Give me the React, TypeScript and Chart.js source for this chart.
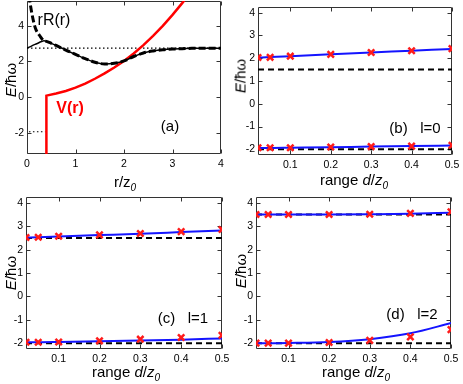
import React, { useEffect, useRef } from "react";
import { Chart, registerables } from "chart.js";
Chart.register(...registerables);

const FONT = '"Liberation Sans", Arial, Helvetica, sans-serif';

// ---------- Panel (a) data ----------
const aXTicks = [0, 1, 2, 3, 4];
const aYTicks = [-2, 0, 2, 4];
const rRSolidR = [0, 0.1, 0.2, 0.3, 0.35, 0.4, 0.5, 0.6, 0.8, 1.0, 1.2, 1.4, 1.6, 1.8, 2.0, 2.2, 2.4, 2.6, 2.8, 3.0, 3.2, 3.4, 3.6, 3.8, 4.0];
const rRSolidV = [2.75, 2.88, 3.0, 3.12, 3.16, 3.13, 3.02, 2.9, 2.64, 2.4, 2.16, 1.96, 1.86, 1.9, 2.03, 2.28, 2.48, 2.59, 2.66, 2.7, 2.72, 2.74, 2.75, 2.75, 2.75];
const rRDashR = [0.04, 0.1, 0.17, 0.27, 0.35, 0.4, 0.5, 0.6, 0.8, 1.0, 1.2, 1.4, 1.6, 1.8, 2.0, 2.2, 2.4, 2.6, 2.8, 3.0, 3.2, 3.4, 3.6, 3.8, 4.0];
const rRDashV = [5.7, 4.7, 3.9, 3.42, 3.16, 3.13, 3.02, 2.9, 2.64, 2.4, 2.16, 1.96, 1.86, 1.9, 2.03, 2.28, 2.48, 2.59, 2.66, 2.7, 2.72, 2.74, 2.75, 2.75, 2.75];
const potR = [0.4, 0.4, 0.6, 0.8, 1.0, 1.2, 1.4, 1.6, 1.8, 2.0, 2.2, 2.4, 2.6, 2.8, 3.0, 3.2, 3.4];
const potV = [-3.4, 0.08, 0.2, 0.34, 0.53, 0.76, 1.03, 1.33, 1.66, 2.03, 2.45, 2.92, 3.44, 4.0, 4.62, 5.28, 5.98];
const levelHighR = [0, 4];
const levelHigh = 2.75;
const levelLowR = [0.04, 0.38];
const levelLow = -1.95;

// ---------- Panels (b)-(d) data ----------
const dRange = [0.02, 0.05, 0.1, 0.2, 0.3, 0.4, 0.5];
const dXTicks = [0.1, 0.2, 0.3, 0.4, 0.5];
const dYTicks = [-2, -1, 0, 1, 2, 3, 4];

// (b) l=0
const l0UpperLine = [2.03, 2.05, 2.09, 2.17, 2.25, 2.33, 2.41];
const l0UpperPts = [2.03, 2.04, 2.09, 2.17, 2.25, 2.33, 2.42];
const l0LowerLine = [-1.94, -1.94, -1.93, -1.91, -1.88, -1.86, -1.83];
const l0LowerPts = [-1.93, -1.93, -1.93, -1.9, -1.88, -1.86, -1.82];
const l0Ref = [1.5, -2];

// (c) l=1
const l1UpperLine = [2.52, 2.53, 2.56, 2.62, 2.68, 2.75, 2.82];
const l1UpperPts = [2.52, 2.53, 2.57, 2.63, 2.69, 2.77, 2.86];
const l1LowerLine = [-1.96, -1.96, -1.95, -1.92, -1.89, -1.85, -1.8];
const l1LowerPts = [-1.96, -1.96, -1.95, -1.9, -1.83, -1.76, -1.66];
const l1Ref = [2.5, -2];

// (d) l=2
const l2UpperLine = [3.5, 3.5, 3.5, 3.5, 3.51, 3.53, 3.58];
const l2UpperPts = [3.5, 3.5, 3.5, 3.5, 3.51, 3.55, 3.62];
const l2LowerLine = [-2, -2, -1.99, -1.95, -1.83, -1.58, -1.14];
const l2LowerPts = [-2, -2, -2, -1.97, -1.88, -1.73, -1.42];
const l2Ref = [3.5, -2];

// ---------- helpers ----------
const pts = (xs: number[], ys: number[]) => xs.map((x, i) => ({ x, y: ys[i] }));
const flat = (xs: number[], y: number) => xs.map((x) => ({ x, y }));

const framePlugin = {
  id: "frame",
  beforeDatasetsDraw(chart: any) {
    const { ctx, chartArea } = chart;
    const xs = chart.scales.x;
    const ys = chart.scales.y;
    const L = Math.round(chartArea.left) + 0.5;
    const R = Math.round(chartArea.right) - 0.5;
    const T = Math.round(chartArea.top) + 0.5;
    const B = Math.round(chartArea.bottom) - 0.5;
    const tl = 4;
    ctx.save();
    ctx.strokeStyle = "#333";
    ctx.lineWidth = 1;
    ctx.beginPath();
    ctx.rect(L, T, R - L, B - T);
    xs.ticks.forEach((t: any) => {
      const px = Math.round(xs.getPixelForValue(t.value)) + 0.5;
      ctx.moveTo(px, B);
      ctx.lineTo(px, B - tl);
      ctx.moveTo(px, T);
      ctx.lineTo(px, T + tl);
    });
    ys.ticks.forEach((t: any) => {
      const py = Math.round(ys.getPixelForValue(t.value)) + 0.5;
      ctx.moveTo(L, py);
      ctx.lineTo(L + tl, py);
      ctx.moveTo(R, py);
      ctx.lineTo(R - tl, py);
    });
    ctx.stroke();
    ctx.restore();
  },
};

type Cfg = {
  left: number; top: number; width: number; height: number;
  yAxisWidth: number; xAxisHeight: number; padTop: number; padRight: number;
  xMin: number; xMax: number; yMin: number; yMax: number;
  xTicks: number[]; yTicks: number[];
  datasets: any[];
};

const markerDs = (data: any[]) => ({
  data, showLine: false, pointStyle: "crossRot", pointRadius: 4.5,
  pointBorderWidth: 2.5, pointBorderColor: "#ff1a1a", pointBackgroundColor: "#ff1a1a",
  borderColor: "#ff1a1a",
});
const blueDs = (data: any[]) => ({
  data, borderColor: "#1414ff", borderWidth: 2, pointRadius: 0, cubicInterpolationMode: "monotone",
});
const refDs = (data: any[]) => ({
  data, borderColor: "#000", borderWidth: 2, borderDash: [6, 4], pointRadius: 0,
});

const energyDatasets = (uL: number[], uP: number[], lL: number[], lP: number[], ref: number[]) => [
  markerDs(pts(dRange, uP)),
  markerDs(pts(dRange, lP)),
  blueDs(pts(dRange, uL)),
  blueDs(pts(dRange, lL)),
  refDs(flat([0.02, 0.5], ref[0])),
  refDs(flat([0.02, 0.5], ref[1])),
];

const cfgA: Cfg = {
  left: 0, top: 0, width: 230, height: 190,
  yAxisWidth: 27, xAxisHeight: 36, padTop: 1, padRight: 9,
  xMin: 0, xMax: 4, yMin: -3.2, yMax: 5.4,
  xTicks: aXTicks, yTicks: aYTicks,
  datasets: [
    { data: pts(rRDashR, rRDashV), borderColor: "#000", borderWidth: 3, borderDash: [7, 3], pointRadius: 0, cubicInterpolationMode: "monotone" },
    { data: pts(rRSolidR, rRSolidV), borderColor: "#000", borderWidth: 1.5, pointRadius: 0, cubicInterpolationMode: "monotone" },
    { data: pts(potR, potV), borderColor: "#ff0000", borderWidth: 2.5, pointRadius: 0 },
    { data: flat(levelHighR, levelHigh), borderColor: "#000", borderWidth: 1.2, borderDash: [1.5, 2.5], pointRadius: 0 },
    { data: flat(levelLowR, levelLow), borderColor: "#000", borderWidth: 1.2, borderDash: [1.5, 2.5], pointRadius: 0 },
  ],
};

const cfgB: Cfg = {
  left: 230, top: 0, width: 233, height: 190,
  yAxisWidth: 28, xAxisHeight: 35, padTop: 3, padRight: 11,
  xMin: 0.02, xMax: 0.5, yMin: -2.25, yMax: 4.25,
  xTicks: dXTicks, yTicks: dYTicks,
  datasets: energyDatasets(l0UpperLine, l0UpperPts, l0LowerLine, l0LowerPts, l0Ref),
};

const cfgC: Cfg = {
  left: 0, top: 190, width: 230, height: 194,
  yAxisWidth: 26, xAxisHeight: 35, padTop: 5, padRight: 8,
  xMin: 0.02, xMax: 0.5, yMin: -2.25, yMax: 4.25,
  xTicks: dXTicks, yTicks: dYTicks,
  datasets: energyDatasets(l1UpperLine, l1UpperPts, l1LowerLine, l1LowerPts, l1Ref),
};

const cfgD: Cfg = {
  left: 230, top: 190, width: 233, height: 194,
  yAxisWidth: 26, xAxisHeight: 35, padTop: 5, padRight: 12,
  xMin: 0.02, xMax: 0.5, yMin: -2.25, yMax: 4.25,
  xTicks: dXTicks, yTicks: dYTicks,
  datasets: energyDatasets(l2UpperLine, l2UpperPts, l2LowerLine, l2LowerPts, l2Ref),
};

function ChartPanel({ cfg }: { cfg: Cfg }) {
  const ref = useRef<HTMLCanvasElement>(null);
  useEffect(() => {
    const tickFont = { family: FONT, size: 10.5 };
    const chart = new Chart(ref.current as HTMLCanvasElement, {
      type: "line",
      data: { datasets: cfg.datasets },
      options: {
        responsive: false,
        animation: false,
        devicePixelRatio: 1,
        layout: { padding: { left: 0, top: cfg.padTop, right: cfg.padRight, bottom: 0 } },
        plugins: { legend: { display: false }, tooltip: { enabled: false } },
        scales: {
          x: {
            type: "linear", min: cfg.xMin, max: cfg.xMax,
            grid: { display: false, drawTicks: false }, border: { display: false },
            ticks: { font: tickFont, color: "#000", padding: 4, maxRotation: 0, callback: (v: any) => String(v) },
            afterBuildTicks: (s: any) => { s.ticks = cfg.xTicks.map((v) => ({ value: v })); },
            afterFit: (s: any) => { s.height = cfg.xAxisHeight; s.paddingLeft = 0; s.paddingRight = 0; s.paddingTop = 0; s.paddingBottom = 0; },
          },
          y: {
            type: "linear", min: cfg.yMin, max: cfg.yMax,
            grid: { display: false, drawTicks: false }, border: { display: false },
            ticks: { font: tickFont, color: "#000", padding: 3, callback: (v: any) => String(v) },
            afterBuildTicks: (s: any) => { s.ticks = cfg.yTicks.map((v) => ({ value: v })); },
            afterFit: (s: any) => { s.width = cfg.yAxisWidth; s.paddingLeft = 0; s.paddingRight = 0; s.paddingTop = 0; s.paddingBottom = 0; },
          },
        },
      } as any,
      plugins: [framePlugin],
    });
    return () => chart.destroy();
  }, [cfg]);
  return (
    <canvas
      ref={ref}
      width={cfg.width}
      height={cfg.height}
      style={{ position: "absolute", left: cfg.left, top: cfg.top, width: cfg.width, height: cfg.height }}
    />
  );
}

function Txt({ x, y, children, rotate, style }: { x: number; y: number; children: any; rotate?: boolean; style?: any }) {
  return (
    <div
      style={{
        position: "absolute", left: x, top: y,
        transform: `translate(-50%, -50%)${rotate ? " rotate(-90deg)" : ""}`,
        whiteSpace: "pre", fontFamily: FONT, fontSize: 15, lineHeight: 1, color: "#000",
        ...style,
      }}
    >
      {children}
    </div>
  );
}

const Sub0 = () => (
  <span style={{ fontSize: 10, fontStyle: "italic", position: "relative", top: 4 }}>0</span>
);

const YTitle = () => (
  <span><i>E</i>/ħω</span>
);
const RangeTitle = () => (
  <span>range <i>d</i>/<i>z</i><Sub0 /></span>
);

export default function App() {
  return (
    <div style={{ position: "absolute", left: 0, top: 0, width: 463, height: 384, background: "#fff", overflow: "hidden" }}>
      <ChartPanel cfg={cfgA} />
      <ChartPanel cfg={cfgB} />
      <ChartPanel cfg={cfgC} />
      <ChartPanel cfg={cfgD} />

      <Txt x={10} y={80} rotate><YTitle /></Txt>
      <Txt x={125} y={181}><span>r/z<Sub0 /></span></Txt>
      <Txt x={54} y={20} style={{ fontSize: 16 }}>rR(r)</Txt>
      <Txt x={70} y={108} style={{ fontSize: 16, fontWeight: "bold", color: "#ff0000" }}>V(r)</Txt>
      <Txt x={170} y={125}>(a)</Txt>

      <Txt x={240} y={76} rotate><YTitle /></Txt>
      <Txt x={354} y={179}><RangeTitle /></Txt>
      <Txt x={415} y={127}>{"(b)   l=0"}</Txt>

      <Txt x={10} y={273} rotate><YTitle /></Txt>
      <Txt x={126} y={371}><RangeTitle /></Txt>
      <Txt x={183} y={317}>{"(c)   l=1"}</Txt>

      <Txt x={240} y={271} rotate><YTitle /></Txt>
      <Txt x={356} y={371}><RangeTitle /></Txt>
      <Txt x={412} y={313}>{"(d)   l=2"}</Txt>
    </div>
  );
}
